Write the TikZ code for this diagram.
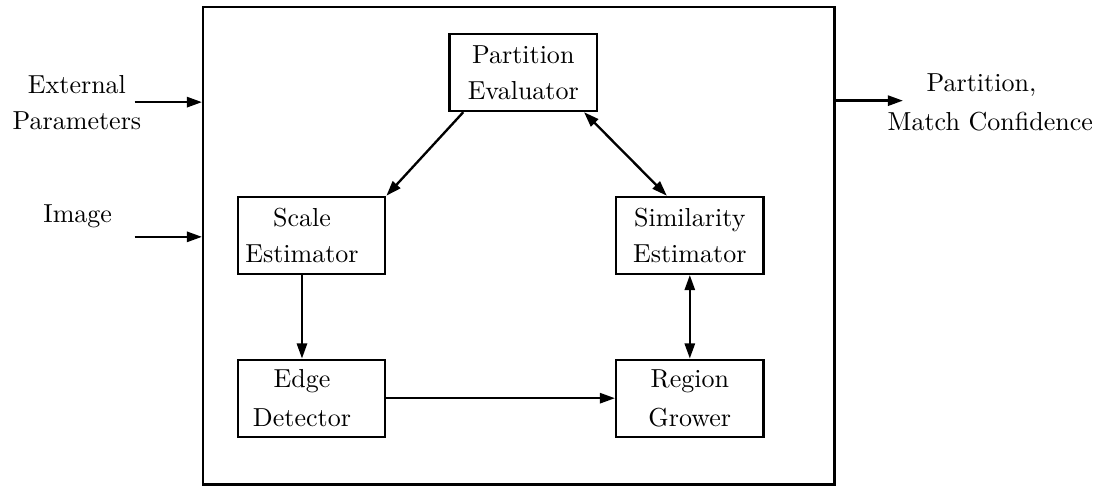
\documentclass[tikz,border=0pt]{standalone}
\usetikzlibrary{arrows.meta}
\begin{document}
\begin{tikzpicture}[scale=1,
  blk/.style={draw,line width=0.9pt,minimum width=1.99cm,minimum height=1.04cm,inner sep=0pt,align=center},
  arr/.style={line width=0.9pt,-{Triangle[length=5.8pt,width=3.9pt]}},
  arrs/.style={line width=0.9pt,{Triangle[length=5.8pt,width=3.9pt]}-{Triangle[length=5.8pt,width=3.9pt]}}]
  \useasboundingbox (0,0) rectangle (14.97,6.58);
  \node[draw,line width=0.9pt,minimum width=8.53cm,minimum height=6.45cm,inner sep=0pt] (frame) at (7.01,3.26) {};
   \node[blk] (part) at (7.07,5.60) {Partition\\[2pt]Evaluator};
   \node[blk] (scale) at (4.21,3.40) {Scale\hspace*{2.6mm}\\[2pt]Estimator\hspace*{2.6mm}};
   \node[blk] (sim) at (9.32,3.40) {Similarity\\[2pt]Estimator};
   \node[blk] (edge) at (4.21,1.20) {Edge\hspace*{2.6mm}\\[3pt]Detector\hspace*{2.6mm}};
   \node[blk] (reg) at (9.32,1.20) {Region\\[3pt]Grower};
  \node[align=center] (extpar) at (1.04,5.19) {External\\[2pt]Parameters};
  \node (img) at (1.05,3.66) {Image};
  \node[align=center] (result) at (13.38,5.20) {Partition,\hspace*{2.4mm}\\[3pt]Match Confidence};
  \coordinate (extin) at (1.82,5.20);
  \coordinate (imgin) at (1.82,3.38);
  \coordinate (resout) at (12.20,5.22);
   \draw[arr] (extin) -- (extin -| frame.west);
   \draw[arr] (imgin) -- (imgin -| frame.west);
   \draw[arr] (resout -| frame.east) -- (resout);
   \draw[arr] ([xshift=2mm]part.south west) -- (scale.north east);
   \draw[arrs] ([xshift=-1.9mm]part.south east) -- ([xshift=7mm]sim.north west);
   \draw[arr] ([xshift=-1.3mm]scale.south) -- ([xshift=-1.3mm]edge.north);
   \draw[arrs] (sim.south) -- (reg.north);
   \draw[arr] (edge.east) -- (reg.west);
\end{tikzpicture}
\end{document}
